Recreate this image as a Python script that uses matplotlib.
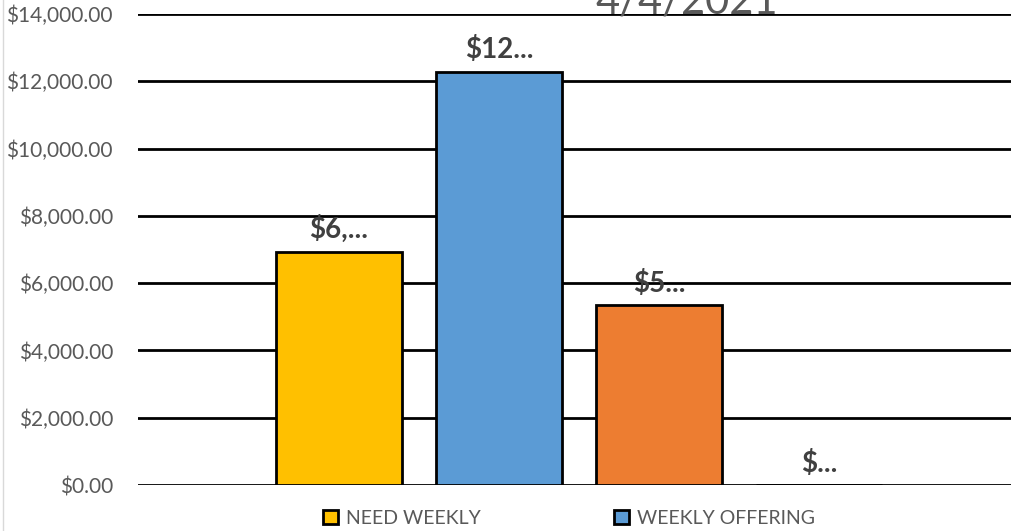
import matplotlib
matplotlib.use("Agg")
import matplotlib.pyplot as plt
from matplotlib.patches import Patch
from matplotlib.lines import Line2D

categories = ["NEED WEEKLY", "WEEKLY OFFERING", "DIFFERENCE", "OTHER"]
values = [6935, 12290, 5355, 0]
labels = ["$6,...", "$12...", "$5...", "$..."]
colors = ["#FFC000", "#5B9BD5", "#ED7D31", "#A5A5A5"]
yticks = [0, 2000, 4000, 6000, 8000, 10000, 12000, 14000]
title = "4/4/2021"

plt.rcParams['font.family'] = ['Lato', 'DejaVu Sans']
fig = plt.figure(figsize=(10.12, 5.31), dpi=100)
W, H = 1012, 531
ax = fig.add_axes([138 / W, 1 - 485 / H, (1020 - 138) / W, (485 - 14) / H])

x = [0, 1, 2, 3]
ax.bar(x, values, width=0.79, color=colors, edgecolor="black", linewidth=2, zorder=3)
ax.set_xlim(-1.256, 4.256)
ax.set_ylim(0, 14000)
ax.set_yticks(yticks)
ax.set_yticklabels([f"${v:,.2f}" for v in yticks], fontsize=15, color="#595959")
ax.tick_params(axis="y", length=0, pad=18)
ax.set_xticks([])
for s in ax.spines.values():
    s.set_visible(False)
ax.grid(axis="y", color="black", linewidth=2, zorder=0)

for xi, v, lab in zip(x, values, labels):
    ax.annotate(lab, (xi, v), xytext=(0, 6), textcoords="offset points",
                ha="center", va="bottom", fontsize=20, fontweight="bold", color="#404040")

fig.text(687 / W, 1 - 13 / H, title, ha="center", va="baseline", fontsize=30, color="#595959")

handles = [Patch(facecolor=colors[0], edgecolor="black", linewidth=2),
           Patch(facecolor=colors[1], edgecolor="black", linewidth=2)]
fig.legend(handles, categories[:2], loc="center", bbox_to_anchor=(569 / W, 1 - 518 / H),
           ncol=2, frameon=False, fontsize=14, labelcolor="#595959",
           handlelength=0.75, handleheight=0.75, handletextpad=0.4, columnspacing=6.9,
           borderpad=0.0)

fig.add_artist(Line2D([3 / W, 3 / W], [0, 1], color="#D9D9D9", linewidth=1, transform=fig.transFigure))

fig.savefig("out.png", dpi=100)
